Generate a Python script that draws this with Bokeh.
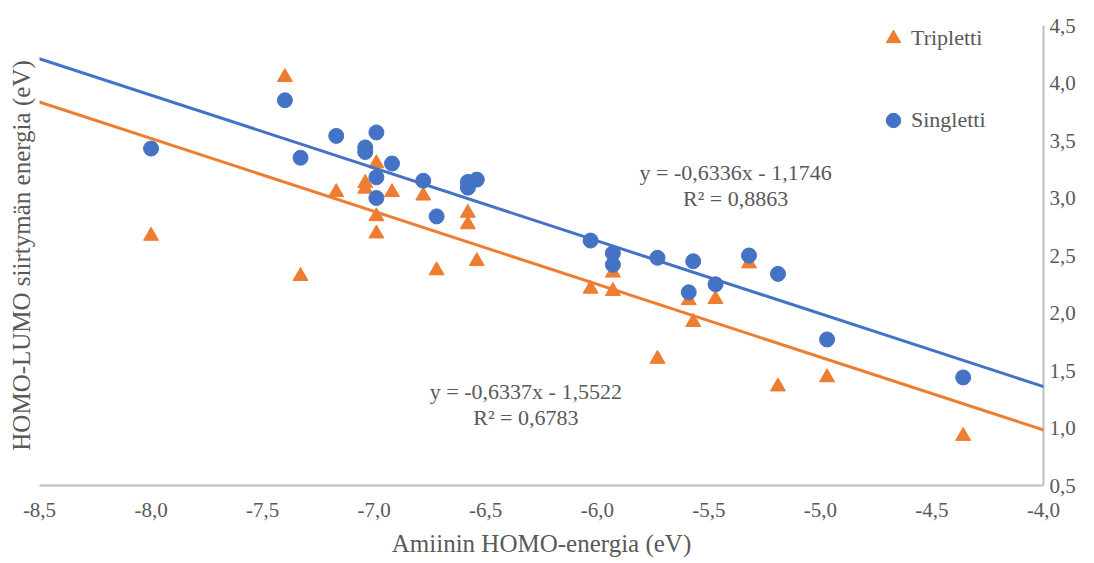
from bokeh.plotting import figure
from bokeh.models import Range1d, Slope, Label, Title, FixedTicker
from bokeh.embed import file_html
from bokeh.resources import INLINE

# ---- data ----
triplet_x = [-8.00, -7.40, -7.33, -7.17, -7.04, -7.04, -6.99, -6.92, -6.78, -6.99, -6.99,
             -6.58, -6.58, -6.72, -6.54, -6.03, -5.93, -5.93, -5.73, -5.59, -5.57, -5.47,
             -5.32, -5.19, -4.97, -4.36]
triplet_y = [2.67, 4.05, 2.32, 3.05, 3.13, 3.08, 3.30, 3.05, 3.02, 2.84, 2.69,
             2.87, 2.77, 2.37, 2.45, 2.21, 2.35, 2.19, 1.60, 2.11, 1.92, 2.12,
             2.43, 1.36, 1.44, 0.93]

singlet_x = [-8.00, -7.40, -7.33, -7.17, -7.04, -7.04, -6.99, -6.92, -6.99, -6.78, -6.99,
             -6.72, -6.58, -6.58, -6.54, -6.03, -5.93, -5.93, -5.73, -5.57, -5.59, -5.47,
             -5.32, -5.19, -4.97, -4.36]
singlet_y = [3.43, 3.85, 3.35, 3.54, 3.44, 3.40, 3.57, 3.30, 3.18, 3.15, 3.00,
             2.84, 3.14, 3.09, 3.16, 2.63, 2.52, 2.42, 2.48, 2.45, 2.18, 2.25,
             2.50, 2.34, 1.77, 1.44]

singlet_fit = (-0.6336, -1.1746)   # slope, intercept
triplet_fit = (-0.6337, -1.5522)
singlet_eq = ["y = -0,6336x - 1,1746", "R² = 0,8863"]
triplet_eq = ["y = -0,6337x - 1,5522", "R² = 0,6783"]

series_names = ["Tripletti", "Singletti"]

x_ticks = [-8.5, -8.0, -7.5, -7.0, -6.5, -6.0, -5.5, -5.0, -4.5, -4.0]
x_tick_labels = ["-8,5", "-8,0", "-7,5", "-7,0", "-6,5", "-6,0", "-5,5", "-5,0", "-4,5", "-4,0"]
y_ticks = [0.5, 1.0, 1.5, 2.0, 2.5, 3.0, 3.5, 4.0, 4.5]
y_tick_labels = ["0,5", "1,0", "1,5", "2,0", "2,5", "3,0", "3,5", "4,0", "4,5"]

x_title = "Amiinin HOMO-energia (eV)"
y_title = "HOMO-LUMO siirtymän energia (eV)"

# ---- styling ----
FONT = "Liberation Serif"
TXT = "#595959"
ORANGE = "#ED7D31"
BLUE = "#4472C4"
AXIS = "#BFBFBF"

p = figure(width=1078, height=560, output_backend="svg", toolbar_location=None,
           x_range=Range1d(x_ticks[0], x_ticks[-1]), y_range=Range1d(y_ticks[0], y_ticks[-1]),
           y_axis_location="right",
           min_border_left=34, min_border_right=33, min_border_top=25, min_border_bottom=75)
p.outline_line_color = None
p.xgrid.visible = False
p.ygrid.visible = False
p.background_fill_color = "white"
p.border_fill_color = "white"

p.scatter(triplet_x, triplet_y, marker="triangle", size=15, fill_color=ORANGE,
          line_color=ORANGE, legend_label=series_names[0])
p.scatter(singlet_x, singlet_y, marker="circle", size=15, fill_color=BLUE,
          line_color=BLUE, legend_label=series_names[1])

p.add_layout(Slope(gradient=singlet_fit[0], y_intercept=singlet_fit[1],
                   line_color=BLUE, line_width=3))
p.add_layout(Slope(gradient=triplet_fit[0], y_intercept=triplet_fit[1],
                   line_color=ORANGE, line_width=3))

# equation labels
for (lines, cx, cy) in [(singlet_eq, -5.38, 3.22), (triplet_eq, -6.32, 1.32)]:
    for i, t in enumerate(lines):
        p.add_layout(Label(x=cx, y=cy, y_offset=-26 * i, text=t, text_align="center",
                           text_baseline="middle", text_font=FONT, text_font_size="22px",
                           text_color=TXT))

for ax in (p.xaxis[0], p.yaxis[0]):
    ax.axis_line_color = AXIS
    ax.axis_line_width = 2
    ax.major_tick_line_color = None
    ax.minor_tick_line_color = None
    ax.major_tick_out = 0
    ax.major_tick_in = 0
    ax.minor_tick_out = 0
    ax.minor_tick_in = 0
    ax.major_label_text_font = FONT
    ax.major_label_text_font_size = "21px"
    ax.major_label_text_color = TXT

p.xaxis[0].major_label_standoff = 17
p.yaxis[0].major_label_standoff = 6

p.xaxis[0].ticker = FixedTicker(ticks=x_ticks)
p.xaxis[0].major_label_overrides = {t: l for t, l in zip(x_ticks, x_tick_labels)}
p.yaxis[0].ticker = FixedTicker(ticks=y_ticks)
p.yaxis[0].major_label_overrides = {t: l for t, l in zip(y_ticks, y_tick_labels)}

p.xaxis[0].axis_label = x_title
p.xaxis[0].axis_label_text_font = FONT
p.xaxis[0].axis_label_text_font_size = "25px"
p.xaxis[0].axis_label_text_font_style = "normal"
p.xaxis[0].axis_label_text_color = TXT
p.xaxis[0].axis_label_standoff = 10

ytitle = Title(text=y_title, align="center", text_font=FONT, text_font_size="25px",
               text_font_style="normal", text_color=TXT)
p.add_layout(ytitle, "left")

lg = p.legend[0]
lg.location = (836, 347)
lg.border_line_color = None
lg.background_fill_alpha = 0
lg.padding = 0
lg.margin = 0
lg.glyph_width = 36
lg.glyph_height = 36
lg.spacing = 46
lg.label_standoff = 0
lg.label_text_font = FONT
lg.label_text_font_size = "22px"
lg.label_text_color = TXT

open("out.html", "w").write(file_html(p, INLINE))
